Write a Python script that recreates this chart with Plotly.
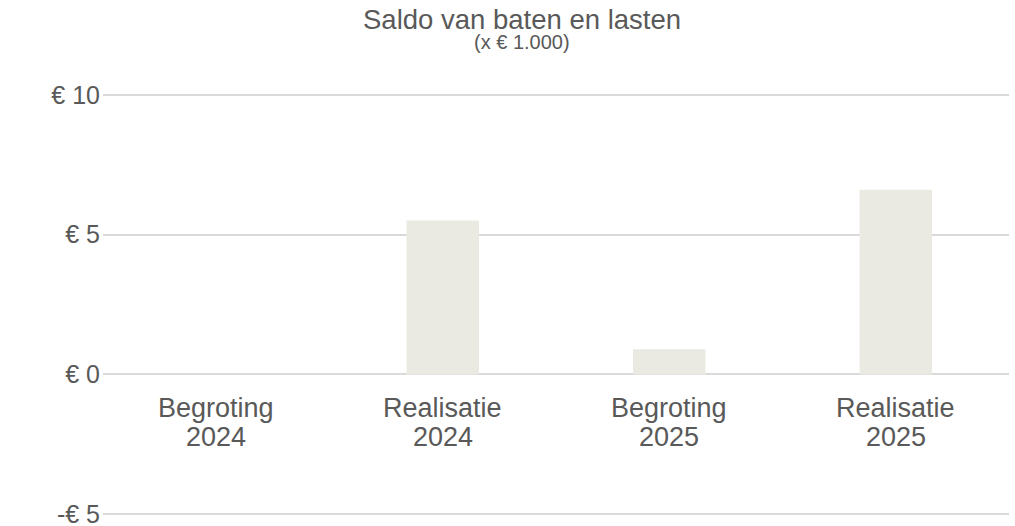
import plotly.graph_objects as go

categories = ["Begroting 2024", "Realisatie 2024", "Begroting 2025", "Realisatie 2025"]
label_line1 = ["Begroting", "Realisatie", "Begroting", "Realisatie"]
label_line2 = ["2024", "2024", "2025", "2025"]
values = [0.0, 5.5, 0.9, 6.6]
tick_vals = [-5, 0, 5, 10]
tick_text = ["-€ 5", "€ 0", "€ 5", "€ 10"]
title_text = "Saldo van baten en lasten"
subtitle_text = "(x € 1.000)"

TXT = "#595959"
FONT = "Liberation Sans, Arial, sans-serif"

fig = go.Figure()
fig.add_trace(go.Bar(x=categories, y=values, marker=dict(color="#EAEAE2", line=dict(width=0)),
                     hoverinfo="skip"))

annotations = []
for c, l1, l2 in zip(categories, label_line1, label_line2):
    annotations.append(dict(x=c, y=0, xref="x", yref="y", text=l1, showarrow=False,
                            yanchor="middle", xanchor="center", yshift=-33.5,
                            font=dict(family=FONT, size=27, color=TXT)))
    annotations.append(dict(x=c, y=0, xref="x", yref="y", text=l2, showarrow=False,
                            yanchor="middle", xanchor="center", yshift=-62.5,
                            font=dict(family=FONT, size=27, color=TXT)))
annotations.append(dict(x=0.4625, y=1.1703, xref="paper", yref="paper", text=title_text,
                        showarrow=False, xanchor="center", yanchor="middle",
                        font=dict(family=FONT, size=27.5, color=TXT)))
annotations.append(dict(x=0.4625, y=1.1182, xref="paper", yref="paper", text=subtitle_text,
                        showarrow=False, xanchor="center", yanchor="middle",
                        font=dict(family=FONT, size=20, color=TXT)))

fig.update_layout(
    width=1015, height=526,
    margin=dict(l=103, r=6, t=92.2, b=9.2, autoexpand=False),
    paper_bgcolor="white", plot_bgcolor="white",
    showlegend=False,
    bargap=0.68,
    annotations=annotations,
    xaxis=dict(showticklabels=False, showgrid=False, zeroline=False, showline=False, ticks="",
               automargin=False),
    yaxis=dict(range=[-5.1, 10.1], tickvals=tick_vals, ticktext=tick_text,
               showgrid=True, gridcolor="#D9D9D9", gridwidth=2,
               zeroline=False, showline=False, ticks="", automargin=False,
               ticklabelstandoff=2, ticklabeloverflow="allow",
               tickfont=dict(family=FONT, size=25, color=TXT)),
)

fig.write_html("out.html", config={"displayModeBar": False},
               post_script="document.body.style.margin='0';")
